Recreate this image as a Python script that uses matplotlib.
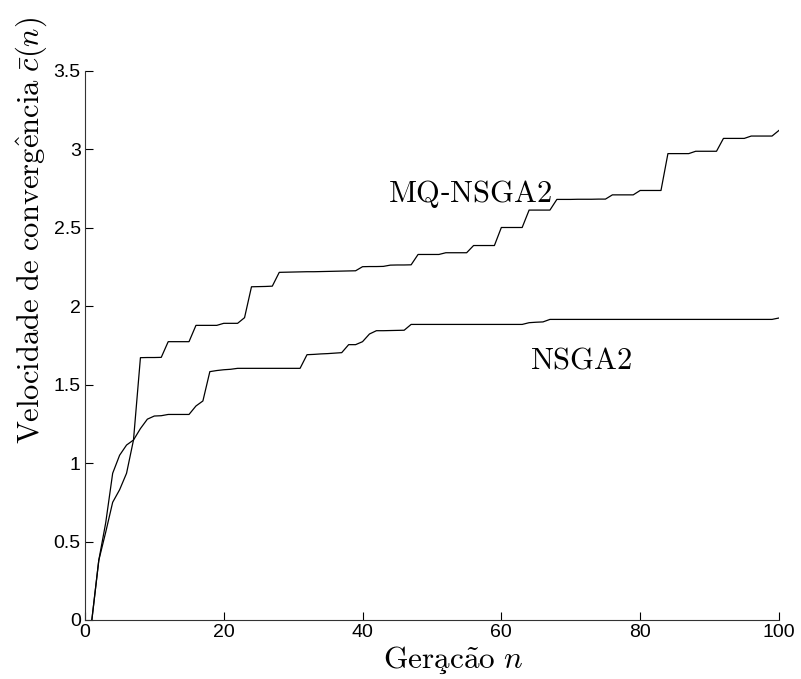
import matplotlib
matplotlib.use('Agg')
import matplotlib.pyplot as plt
from matplotlib.ticker import FuncFormatter

plt.rcParams['mathtext.fontset'] = 'cm'
plt.rcParams['font.family'] = ['Liberation Sans', 'DejaVu Sans']

geracoes = list(range(1, 101))

mq_nsga2 = [0, 0.38, 0.56, 0.75, 0.83, 0.935, 1.147,
            1.672, 1.673, 1.673, 1.674,
            1.774, 1.774, 1.774, 1.774,
            1.878, 1.878, 1.878, 1.878,
            1.891, 1.891, 1.891,
            1.927,
            2.124, 2.125, 2.126, 2.128,
            2.216, 2.217, 2.218, 2.219, 2.220, 2.220, 2.221, 2.222, 2.223, 2.224, 2.225, 2.226,
            2.252, 2.253, 2.253, 2.254,
            2.262, 2.263, 2.263, 2.264,
            2.330, 2.330, 2.330, 2.330,
            2.341, 2.341, 2.341, 2.341,
            2.387, 2.387, 2.387, 2.387,
            2.502, 2.502, 2.502, 2.502,
            2.613, 2.613, 2.613, 2.613,
            2.681, 2.681, 2.681, 2.682, 2.682, 2.682, 2.683, 2.683,
            2.710, 2.710, 2.710, 2.710,
            2.738, 2.738, 2.738, 2.738,
            2.973, 2.973, 2.973, 2.973,
            2.988, 2.988, 2.988, 2.988,
            3.070, 3.070, 3.070, 3.070,
            3.085, 3.085, 3.085, 3.085,
            3.121]

nsga2 = [0, 0.38, 0.62, 0.935, 1.05, 1.115, 1.147, 1.22, 1.28, 1.30, 1.302,
         1.31, 1.31, 1.31, 1.31,
         1.364, 1.396, 1.583, 1.590, 1.595, 1.598,
         1.604, 1.604, 1.604, 1.604, 1.604, 1.604, 1.604, 1.604, 1.604, 1.604,
         1.691, 1.693, 1.696, 1.698, 1.701, 1.704,
         1.755, 1.755,
         1.774, 1.823,
         1.844, 1.844, 1.845, 1.846, 1.847,
         1.884, 1.884, 1.884, 1.884, 1.884, 1.884, 1.884, 1.884, 1.884,
         1.884, 1.884, 1.884, 1.884, 1.884, 1.884, 1.884, 1.884,
         1.895, 1.898, 1.900,
         1.916, 1.916, 1.916, 1.916, 1.916, 1.916, 1.916, 1.916, 1.916, 1.916, 1.916,
         1.916, 1.916, 1.916, 1.916, 1.916, 1.916, 1.916, 1.916, 1.916, 1.916, 1.916,
         1.916, 1.916, 1.916, 1.916, 1.916, 1.916, 1.916, 1.916, 1.916, 1.916, 1.916,
         1.925]

x_ticks = [0, 20, 40, 60, 80, 100]
y_ticks = [0, 0.5, 1, 1.5, 2, 2.5, 3, 3.5]

fig = plt.figure(figsize=(8.01, 6.79), dpi=100)
ax = fig.add_axes([0.106, 0.087, 0.8665, 0.8085])

ax.plot(geracoes, mq_nsga2, color='black', lw=0.9)
ax.plot(geracoes, nsga2, color='black', lw=0.9)

ax.text(43.7, 2.664, r'$\mathrm{MQ}$-$\mathrm{NSGA2}$', fontsize=22, va='baseline', ha='left')
ax.text(64.1, 1.60, r'$\mathrm{NSGA2}$', fontsize=22, va='baseline', ha='left')

ax.set_xlim(0, 100)
ax.set_ylim(0, 3.5)
ax.set_xticks(x_ticks)
ax.set_yticks(y_ticks)
ax.yaxis.set_major_formatter(FuncFormatter(lambda v, p: '%g' % v))
ax.tick_params(direction='in', length=6, width=0.8, labelsize=14, pad=3, colors='black')

for side in ['top', 'right']:
    ax.spines[side].set_visible(False)
for side in ['left', 'bottom']:
    ax.spines[side].set_linewidth(0.8)
    ax.spines[side].set_color('#333333')

ax.set_xlabel(r'$\mathrm{Gera\c{c}\~ao}\ n$', fontsize=22.5)
ax.set_ylabel(r'$\mathrm{Velocidade\ de\ converg\^encia}\ \bar{c}(n)$', fontsize=22)
# labels sit off-centre, as exported
ax.xaxis.set_label_coords(0.53, -0.045, transform=ax.transAxes)
ax.yaxis.set_label_coords(-0.052, 0.71, transform=ax.transAxes)
ax.xaxis.label.set_va('top')

plt.savefig('out.png', dpi=100)
